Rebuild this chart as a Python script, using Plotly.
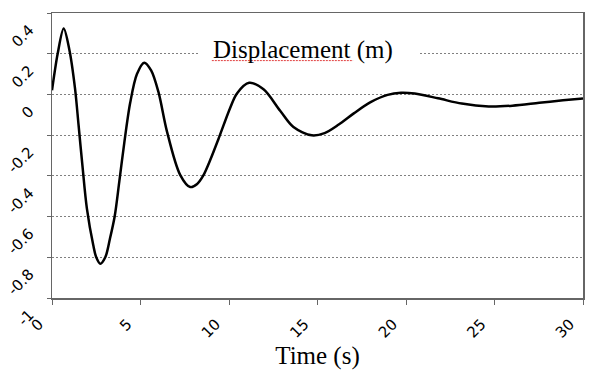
import plotly.graph_objects as go

# Data
time_s = [0, 0.15, 0.32, 0.66, 0.98, 1.30, 1.50, 1.72, 1.97, 2.33, 2.50, 2.73,
          3.01, 3.27, 3.54, 3.80, 4.08, 4.42, 4.80, 5.21, 5.60, 6.02, 6.49,
          7.24, 7.81, 8.20, 8.55, 8.95, 9.40, 10.07, 10.45, 11.14, 11.95,
          12.89, 13.64, 14.68, 15.40, 16.20, 17.05, 18.00, 18.96, 19.72,
          20.49, 21.81, 23.15, 24.67, 26.01, 27.53, 28.87, 30]
displacement_m = [0.02, 0.11, 0.2, 0.324, 0.22, 0.03, -0.15, -0.35, -0.56,
                  -0.74, -0.80, -0.832, -0.8, -0.71, -0.6, -0.43, -0.24,
                  -0.04, 0.1, 0.156, 0.118, 0.01, -0.18, -0.395, -0.455,
                  -0.44, -0.398, -0.32, -0.22, -0.065, 0.005, 0.057, 0.025,
                  -0.08, -0.16, -0.201, -0.19, -0.148, -0.093, -0.038,
                  -0.002, 0.008, 0.004, -0.019, -0.045, -0.059, -0.055,
                  -0.041, -0.029, -0.02]

x_tick_vals = [0, 5, 10, 15, 20, 25, 30]
x_tick_text = ["0", "5", "10", "15", "20", "25", "30"]
y_tick_vals = [-1, -0.8, -0.6, -0.4, -0.2, 0, 0.2, 0.4]
y_tick_text = ["-1", "-0.8", "-0.6", "-0.4", "-0.2", "0", "0.2", "0.4"]

chart_title = "Displacement (m)"
x_title = "Time (s)"

axis_color = "#666666"
tick_font = dict(family="DejaVu Sans", size=15, color="black")
serif_font = dict(family="Liberation Serif", size=25, color="black")

fig = go.Figure()
fig.add_trace(go.Scatter(
    x=time_s, y=displacement_m, mode="lines",
    line=dict(color="black", width=2.5, shape="spline", smoothing=0.9),
    showlegend=False, hoverinfo="skip",
))

fig.update_layout(
    width=600, height=377,
    margin=dict(l=52, r=17, t=13, b=79),
    paper_bgcolor="white", plot_bgcolor="white",
    xaxis=dict(
        range=[0, 30], tickvals=x_tick_vals, ticktext=x_tick_text,
        tickangle=-45, tickfont=tick_font, automargin=False,
        ticklabeloverflow="allow",
        showgrid=False, zeroline=False,
        showline=True, linecolor=axis_color, linewidth=1.5, mirror=True,
        ticks="outside", ticklen=5, tickcolor=axis_color, tickwidth=1,
        ticklabelstandoff=5, ticklabelshift=-13,
        title=dict(text=x_title, font=serif_font, standoff=5),
    ),
    yaxis=dict(
        range=[-1, 0.4], tickvals=y_tick_vals, ticktext=y_tick_text,
        tickangle=-45, tickfont=tick_font, automargin=False,
        ticklabeloverflow="allow",
        showgrid=True, gridcolor="#808080", gridwidth=1, griddash="2px,2px",
        zeroline=False,
        showline=True, linecolor=axis_color, linewidth=1.5, mirror=True,
        ticks="outside", ticklen=4, tickcolor=axis_color, tickwidth=1,
        ticklabelstandoff=14, ticklabelshift=15,
    ),
    annotations=[dict(
        text=chart_title, xref="paper", yref="paper", x=0.473, y=0.870,
        xanchor="center", yanchor="middle", showarrow=False,
        font=serif_font,
    )],
    shapes=[
        # white box behind the title text, interrupting the gridline
        dict(type="rect", xref="paper", yref="paper", x0=0.275, x1=0.693,
             y0=0.842, y1=0.905, fillcolor="white", line=dict(width=0),
             layer="above"),
        # red spell-check underline under "Displacement"
        dict(type="line", xref="paper", yref="paper", x0=0.301, x1=0.567,
             y0=0.833, y1=0.833, line=dict(color="#e04040", width=1, dash="2px,1px"),
             layer="above"),
    ],
)

fig.write_html(
    "out.html",
    config={"displayModeBar": False, "staticPlot": True},
    post_script="document.body.style.margin='0';document.body.style.overflow='hidden';",
)
